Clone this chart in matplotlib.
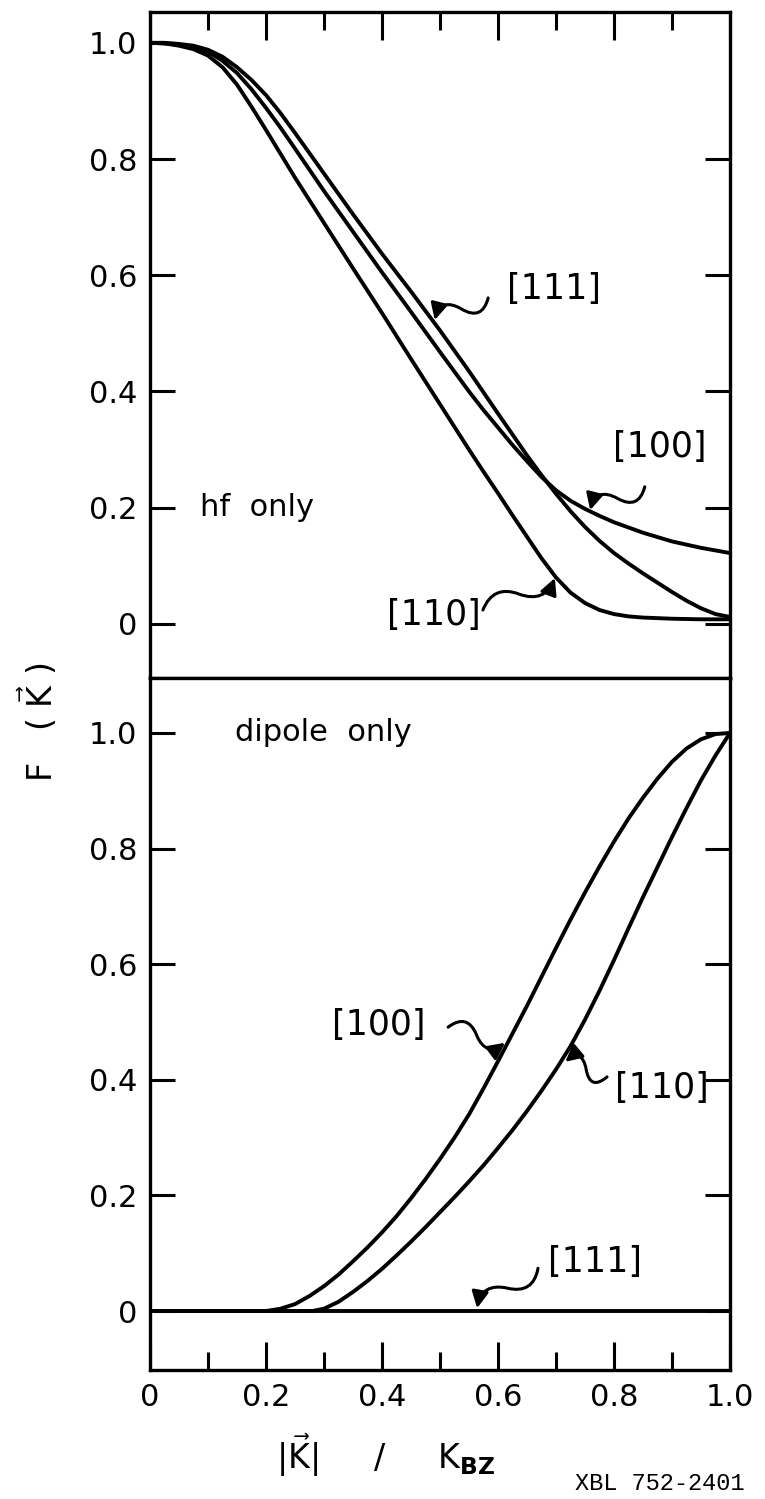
import numpy as np
import matplotlib
matplotlib.use("Agg")
import matplotlib.pyplot as plt
from matplotlib.path import Path
from matplotlib.patches import FancyArrowPatch

# ====== hf only (upper panel) ======
hf_x_111 = [0, 0.025, 0.05, 0.075, 0.1, 0.125, 0.15, 0.175, 0.2, 0.225, 0.25,
            0.3, 0.35, 0.4, 0.45, 0.5, 0.55, 0.6, 0.625, 0.65, 0.675, 0.7,
            0.725, 0.75, 0.775, 0.8, 0.825, 0.85, 0.875, 0.9, 0.925, 0.95,
            0.975, 1.0]
hf_y_111 = [1.0, 1.0, 0.998, 0.995, 0.988, 0.976, 0.958, 0.936, 0.91, 0.879,
            0.845, 0.775, 0.705, 0.637, 0.572, 0.505, 0.435, 0.362, 0.326,
            0.29, 0.256, 0.224, 0.194, 0.167, 0.143, 0.122, 0.104, 0.087,
            0.071, 0.055, 0.04, 0.027, 0.017, 0.012]

hf_x_100 = [0, 0.025, 0.05, 0.075, 0.1, 0.125, 0.15, 0.175, 0.2, 0.225, 0.25,
            0.3, 0.35, 0.4, 0.45, 0.5, 0.55, 0.575, 0.6, 0.625, 0.65, 0.675,
            0.7, 0.725, 0.75, 0.775, 0.8, 0.85, 0.9, 0.95, 1.0]
hf_y_100 = [1.0, 0.999, 0.997, 0.993, 0.985, 0.969, 0.948, 0.92, 0.888, 0.854,
            0.818, 0.745, 0.675, 0.605, 0.537, 0.468, 0.40, 0.368, 0.338,
            0.308, 0.28, 0.253, 0.23, 0.212, 0.198, 0.186, 0.175, 0.157,
            0.142, 0.131, 0.122]

hf_x_110 = [0, 0.025, 0.05, 0.075, 0.1, 0.125, 0.15, 0.175, 0.2, 0.225, 0.25,
            0.3, 0.35, 0.4, 0.45, 0.5, 0.55, 0.575, 0.6, 0.625, 0.65, 0.675,
            0.7, 0.725, 0.75, 0.775, 0.8, 0.825, 0.85, 0.9, 0.95, 1.0]
hf_y_110 = [1.0, 0.999, 0.995, 0.989, 0.978, 0.958, 0.928, 0.89, 0.85, 0.809,
            0.768, 0.69, 0.612, 0.535, 0.456, 0.378, 0.30, 0.262, 0.225,
            0.187, 0.15, 0.113, 0.08, 0.054, 0.036, 0.024, 0.017, 0.013,
            0.011, 0.009, 0.008, 0.008]

# ====== dipole only (lower panel) ======
dp_x_100 = [0, 0.2, 0.225, 0.25, 0.275, 0.3, 0.325, 0.35, 0.375, 0.4, 0.425,
            0.45, 0.475, 0.5, 0.525, 0.55, 0.575, 0.6, 0.625, 0.65, 0.675,
            0.7, 0.725, 0.75, 0.775, 0.8, 0.825, 0.85, 0.875, 0.9, 0.925,
            0.95, 0.975, 1.0]
dp_y_100 = [0, 0, 0.004, 0.012, 0.026, 0.043, 0.063, 0.086, 0.11, 0.136,
            0.164, 0.195, 0.228, 0.263, 0.30, 0.34, 0.385, 0.432, 0.48,
            0.528, 0.578, 0.628, 0.677, 0.724, 0.769, 0.812, 0.852, 0.888,
            0.921, 0.95, 0.973, 0.989, 0.998, 1.0]

dp_x_110 = [0, 0.28, 0.3, 0.325, 0.35, 0.375, 0.4, 0.425, 0.45, 0.475, 0.5,
            0.525, 0.55, 0.575, 0.6, 0.625, 0.65, 0.675, 0.7, 0.725, 0.75,
            0.775, 0.8, 0.825, 0.85, 0.875, 0.9, 0.925, 0.95, 0.975, 1.0]
dp_y_110 = [0, 0, 0.004, 0.016, 0.033, 0.052, 0.073, 0.096, 0.12, 0.145,
            0.171, 0.197, 0.224, 0.252, 0.282, 0.313, 0.346, 0.381, 0.418,
            0.458, 0.504, 0.554, 0.607, 0.662, 0.716, 0.768, 0.82, 0.87,
            0.918, 0.961, 1.0]

dp_x_111 = [0, 1.0]
dp_y_111 = [0, 0]

y_ticks = [0, 0.2, 0.4, 0.6, 0.8, 1.0]
y_ticklabels = ["0", "0.2", "0.4", "0.6", "0.8", "1.0"]
x_ticks = [0, 0.2, 0.4, 0.6, 0.8, 1.0]
x_ticklabels = ["0", "0.2", "0.4", "0.6", "0.8", "1.0"]

# label text, position (left, centre) and squiggle arrow (tail -> tip)
hf_labels = [
    ("[111]", (0.616, 0.577), (0.583, 0.561), (0.491, 0.523)),
    ("[100]", (0.798, 0.305), (0.853, 0.236), (0.759, 0.196)),
    ("[110]", (0.409, 0.015), (0.574, 0.024), (0.698, 0.079)),
]
dp_labels = [
    ("[100]", (0.314, 0.495), (0.514, 0.491), (0.612, 0.464)),
    ("[110]", (0.802, 0.386), (0.788, 0.405), (0.716, 0.431)),
    ("[111]", (0.686, 0.085), (0.669, 0.074), (0.564, 0.005)),
]

LW = 2.8
plt.rcParams["font.family"] = "DejaVu Sans"
plt.rcParams["mathtext.fontset"] = "dejavusans"

fig = plt.figure(figsize=(7.65, 14.99), dpi=100)
ax_top = fig.add_axes([150/765, 1-678/1499, 580/765, 666/1499])
ax_bot = fig.add_axes([150/765, 1-1370/1499, 580/765, 692/1499])


def squiggle(ax, tail, tip, amp=0.022):
    # one full wave from tail to tip, arrow head at the tip
    x0, y0 = tail
    x1, y1 = tip
    dx, dy = x1 - x0, y1 - y0
    L = np.hypot(dx, dy)
    nx, ny = -dy / L, dx / L
    pt = lambda f, o: (x0 + f*dx + o*amp*nx, y0 + f*dy + o*amp*ny)
    verts = [tail, pt(1/6, 1), pt(2/6, 1), pt(0.5, 0),
             pt(4/6, -1), pt(5/6, -1), tip]
    codes = [Path.MOVETO] + [Path.CURVE4]*6
    ax.add_patch(FancyArrowPatch(path=Path(verts, codes),
                                 arrowstyle="-|>,head_length=0.55,head_width=0.28",
                                 mutation_scale=18, lw=2.2, color="black",
                                 clip_on=False))


def style(ax, ylim, top_ticks):
    ax.set_xlim(0, 1.0)
    ax.set_ylim(*ylim)
    for s in ax.spines.values():
        s.set_linewidth(2.4)
    ax.set_yticks(y_ticks)
    ax.set_yticklabels(y_ticklabels)
    ax.set_xticks(x_ticks)
    ax.set_xticks(np.arange(0.1, 1.0, 0.2), minor=True)
    ax.tick_params(axis="y", which="both", direction="in", left=True,
                   right=True, length=18, width=2.2, pad=9, labelsize=22)
    ax.tick_params(axis="x", which="major", direction="in", top=top_ticks,
                   bottom=not top_ticks, length=20, width=2.2, pad=9,
                   labelsize=22)
    ax.tick_params(axis="x", which="minor", direction="in", top=top_ticks,
                   bottom=not top_ticks, length=13, width=2.2)


style(ax_top, (-0.093, 1.053), True)
ax_top.tick_params(axis="x", labelbottom=False)
ax_top.yaxis.get_major_ticks()[-1].tick2line.set_visible(False)

style(ax_bot, (-0.102, 1.095), False)
ax_bot.set_xticklabels(x_ticklabels)

ax_top.plot(hf_x_111, hf_y_111, color="black", lw=LW, solid_capstyle="round")
ax_top.plot(hf_x_100, hf_y_100, color="black", lw=LW, solid_capstyle="round")
ax_top.plot(hf_x_110, hf_y_110, color="black", lw=LW, solid_capstyle="round")

ax_bot.plot(dp_x_111, dp_y_111, color="black", lw=LW)
ax_bot.plot(dp_x_100, dp_y_100, color="black", lw=LW, solid_capstyle="round")
ax_bot.plot(dp_x_110, dp_y_110, color="black", lw=LW, solid_capstyle="round")

for ax, labels in ((ax_top, hf_labels), (ax_bot, dp_labels)):
    for txt, (lx, ly), tail, tip in labels:
        ax.text(lx, ly, txt, fontsize=25, ha="left", va="center")
        squiggle(ax, tail, tip)

ax_top.text(0.086, 0.2, "hf  only", fontsize=22, ha="left", va="center")
ax_bot.text(0.147, 1.0, "dipole  only", fontsize=22, ha="left", va="center")

fig.text(38/765, 1-722/1499, r"F   ( $\vec{\mathrm{K}}$ )", rotation=90,
         fontsize=24, ha="center", va="center")
fig.text(386/765, 1-1455/1499,
         r"$|\vec{\mathrm{K}}|$     /     K$_{\mathbf{BZ}}$",
         fontsize=24, ha="center", va="center")
fig.text(575/765, 1-1483/1499, "XBL 752-2401", fontsize=17,
         family="Liberation Mono", ha="left", va="center")

fig.savefig("out.png", dpi=100, facecolor="white")
